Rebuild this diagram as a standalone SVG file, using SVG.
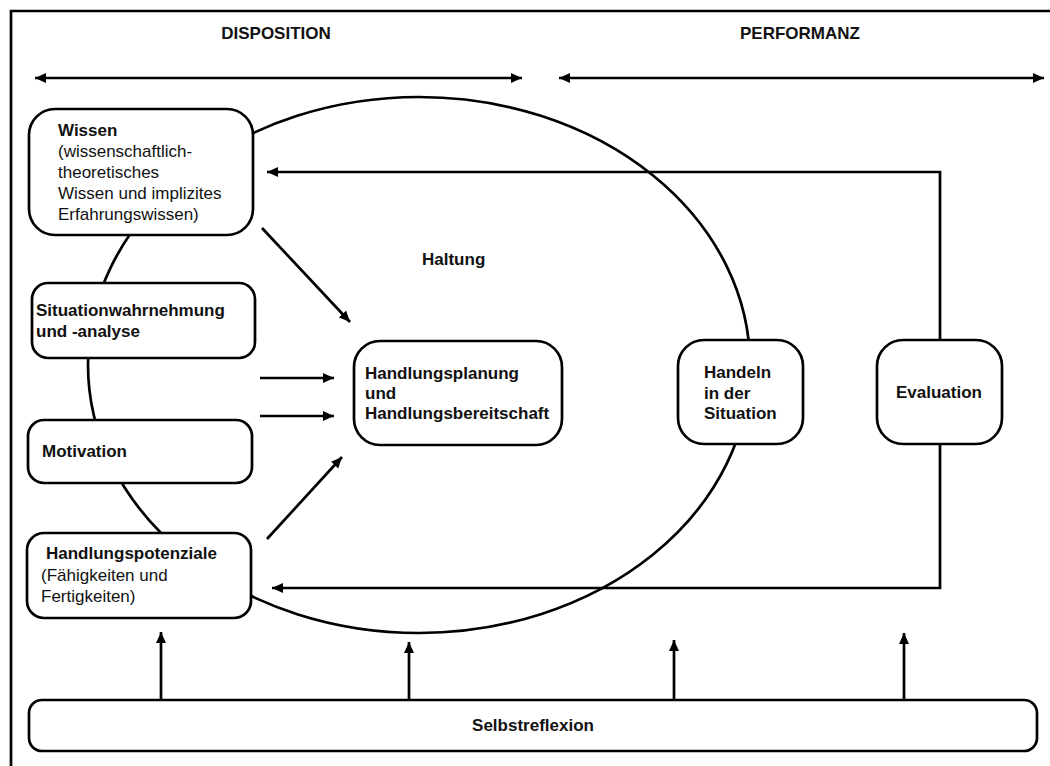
<svg xmlns="http://www.w3.org/2000/svg" width="1050" height="766" viewBox="0 0 1050 766">
<defs>
<marker id="ah" markerUnits="userSpaceOnUse" markerWidth="12" markerHeight="11" refX="11" refY="5.5" orient="auto-start-reverse">
<path d="M0,0.5 L11,5.5 L0,10.5 z" fill="#000"/>
</marker>
</defs>
<style>
.box{fill:#fff;stroke:#000;stroke-width:2.7}
.ln{fill:none;stroke:#000;stroke-width:2.7}
.t{font-family:"Liberation Sans",Arial,sans-serif;font-size:17px;fill:#111}
.b{font-weight:bold}
.hd{font-family:"Liberation Sans",Arial,sans-serif;font-size:17px;font-weight:bold;fill:#111}
</style>
<rect width="1050" height="766" fill="#fff"/>
<path class="ln" d="M11,766 V11 H1050" stroke-width="3"/>
<g id="headers">
<text class="hd" x="276" y="39" text-anchor="middle">DISPOSITION</text>
<text class="hd" x="800" y="39" text-anchor="middle">PERFORMANZ</text>
</g>
<g id="ellipse">
<ellipse class="ln" cx="419" cy="365" rx="331" ry="268"/>
</g>
<g id="connectors">
<line class="ln" x1="35" y1="78" x2="522" y2="78" marker-start="url(#ah)" marker-end="url(#ah)"/>
<line class="ln" x1="559" y1="78" x2="1044" y2="78" marker-start="url(#ah)" marker-end="url(#ah)"/>
<line class="ln" x1="262" y1="228" x2="350" y2="322" marker-end="url(#ah)"/>
<line class="ln" x1="260" y1="378" x2="334" y2="378" marker-end="url(#ah)"/>
<line class="ln" x1="260" y1="416" x2="334" y2="416" marker-end="url(#ah)"/>
<line class="ln" x1="267" y1="539" x2="342" y2="457" marker-end="url(#ah)"/>
<polyline class="ln" points="940,340 940,172 267,172" marker-end="url(#ah)"/>
<polyline class="ln" points="940,444 940,588 272,588" marker-end="url(#ah)"/>
<line class="ln" x1="161" y1="700" x2="161" y2="632" marker-end="url(#ah)"/>
<line class="ln" x1="409" y1="700" x2="409" y2="642" marker-end="url(#ah)"/>
<line class="ln" x1="674" y1="700" x2="674" y2="640" marker-end="url(#ah)"/>
<line class="ln" x1="904" y1="700" x2="904" y2="633" marker-end="url(#ah)"/>
</g>
<g id="wissen">
<rect class="box" x="29" y="109" width="224" height="126" rx="26"/>
<text class="t b" x="58" y="136">Wissen</text>
<text class="t" x="58" y="157">(wissenschaftlich-</text>
<text class="t" x="58" y="178">theoretisches</text>
<text class="t" x="58" y="199">Wissen und implizites</text>
<text class="t" x="58" y="220">Erfahrungswissen)</text>
</g>
<g id="situation">
<rect class="box" x="32" y="283" width="223" height="75" rx="16"/>
<text class="t b" x="36" y="316">Situationwahrnehmung</text>
<text class="t b" x="36" y="337">und -analyse</text>
</g>
<g id="motivation">
<rect class="box" x="28" y="420" width="224" height="63" rx="16"/>
<text class="t b" x="42" y="457">Motivation</text>
</g>
<g id="potenziale">
<rect class="box" x="27" y="533" width="224" height="85" rx="17"/>
<text class="t b" x="46" y="559">Handlungspotenziale</text>
<text class="t" x="41" y="581">(Fähigkeiten und</text>
<text class="t" x="41" y="602">Fertigkeiten)</text>
</g>
<g id="haltung">
<text class="t b" x="422" y="265">Haltung</text>
</g>
<g id="planung">
<rect class="box" x="354" y="341" width="208" height="104" rx="26"/>
<text class="t b" x="365" y="379">Handlungsplanung</text>
<text class="t b" x="365" y="399">und</text>
<text class="t b" x="365" y="419">Handlungsbereitschaft</text>
</g>
<g id="handeln">
<rect class="box" x="678" y="340" width="125" height="104" rx="26"/>
<text class="t b" x="704" y="378">Handeln</text>
<text class="t b" x="704" y="399">in der</text>
<text class="t b" x="704" y="419">Situation</text>
</g>
<g id="evaluation">
<rect class="box" x="877" y="340" width="125" height="104" rx="26"/>
<text class="t b" x="939" y="398" text-anchor="middle">Evaluation</text>
</g>
<g id="selbstreflexion">
<rect class="box" x="29" y="700" width="1008" height="51" rx="13"/>
<text class="t b" x="533" y="731" text-anchor="middle">Selbstreflexion</text>
</g>
</svg>
